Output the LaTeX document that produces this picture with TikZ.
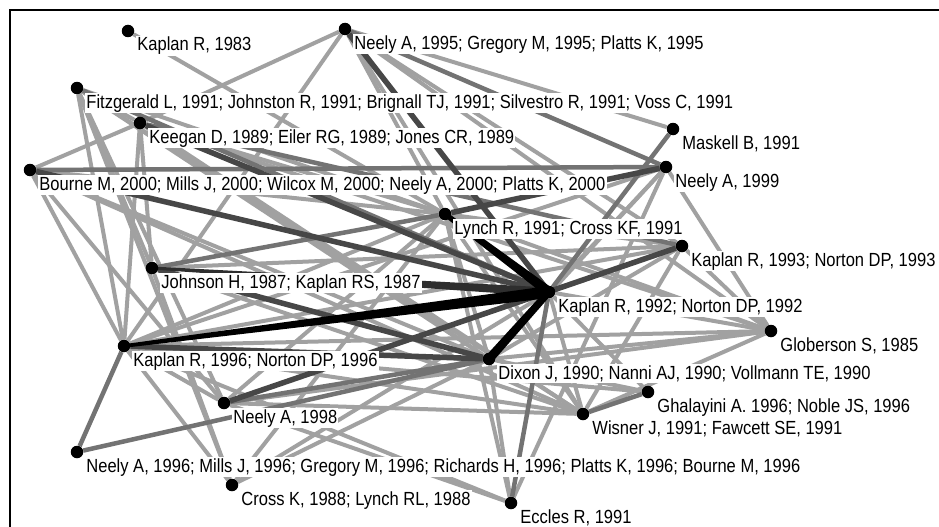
\documentclass[tikz,border=0pt]{standalone}
\usepackage{fontspec}
\setmainfont[FakeStretch=0.87]{Liberation Sans}
\usetikzlibrary{calc}
\pgfdeclarelayer{bg}
\pgfdeclarelayer{edges}
\pgfsetlayers{bg,edges,main}
\tikzset{
  dot/.style={circle, fill=black, inner sep=0pt, minimum size=12.5pt},
  lab/.style={anchor=base west, fill=white, inner sep=1.2pt, font=\fontsize{19}{21}\selectfont},
  lt/.style={line width=4pt, draw=black!37},
  md/.style={line width=4.5pt, draw=black!55},
  dk/.style={line width=5.5pt, draw=black!72},
}
% tapered connector: #1 from node, #2 to node, #3 half width at #1, #4 half width at #2, #5 colour
\newcommand{\wedgeedge}[5]{%
  \fill[#5] ($(#1)!#3!90:(#2)$) -- ($(#2)!#4!-90:(#1)$) -- ($(#2)!#4!90:(#1)$) -- ($(#1)!#3!-90:(#2)$) -- cycle;}
\begin{document}
\begin{tikzpicture}[x=1pt,y=-1pt]
\useasboundingbox (0,0) rectangle (939,527);
\begin{pgfonlayer}{bg}
\fill[white] (0,0) rectangle (939,527);
\end{pgfonlayer}
\draw[line width=2pt] (9.5,527) -- (9.5,10) -- (939,10);

% dots
\node[dot] (A) at (128,31) {};
\node[dot] (B) at (345,29) {};
\node[dot] (C) at (77,88) {};
\node[dot] (D) at (140,123) {};
\node[dot] (E) at (673,129) {};
\node[dot] (F) at (666,167) {};
\node[dot] (G) at (30,170) {};
\node[dot] (H) at (445,214) {};
\node[dot] (I) at (682,246) {};
\node[dot] (J) at (152,268) {};
\node[dot] (K) at (549,292) {};
\node[dot] (L) at (771,331) {};
\node[dot] (M) at (124,346) {};
\node[dot] (N) at (489,359) {};
\node[dot] (O) at (648,392) {};
\node[dot] (P) at (224,403) {};
\node[dot] (Q) at (583,414) {};
\node[dot] (R) at (77,452) {};
\node[dot] (S) at (232,485) {};
\node[dot] (T) at (511,503) {};

% edges
\begin{pgfonlayer}{edges}
\foreach \a/\b in {A/H, B/D, B/M, B/E, B/H, B/Q, B/L, B/I,
  C/D, C/J, C/M, C/H, C/N, C/Q, C/P, C/S,
  D/G, D/J, D/M, D/H, D/N, D/Q, D/L,
  F/K, F/N, F/L, F/T, F/M,
  G/M, G/P, G/N, G/Q, G/H,
  H/I, H/L, H/Q, H/T, H/N, H/M, H/P, H/S,
  I/J, I/M, I/N, I/Q, I/L,
  J/Q, J/S,
  K/I, K/L, K/Q, K/P, K/S, K/O,
  L/M, L/N, L/Q, L/P,
  M/O, M/Q, M/P, M/S, M/T,
  N/O, N/T,
  P/Q, P/T, S/N}
  \draw[lt] (\a) -- (\b);
\foreach \a/\b in {G/F, B/F, E/K, R/M, R/N, P/N, C/K, H/J, T/K, D/I, O/Q}
  \draw[md] (\a) -- (\b);
\foreach \a/\b in {D/K, G/K, M/N, B/K, J/N, H/F, P/I}
  \draw[dk] (\a) -- (\b);
\wedgeedge{J}{K}{1.5pt}{4.5pt}{black!82}
\wedgeedge{M}{K}{1.8pt}{6pt}{black}
\wedgeedge{H}{K}{2.5pt}{5pt}{black}
\wedgeedge{N}{K}{4.5pt}{3.5pt}{black}
\end{pgfonlayer}

% labels
\node[lab] (lA) at (136,51) {Kaplan R, 1983};
\node[lab] (lB) at (353,49) {Neely A, 1995; Gregory M, 1995; Platts K, 1995};
\node[lab] (lC) at (85,108) {Fitzgerald L, 1991; Johnston R, 1991; Brignall TJ, 1991; Silvestro R, 1991; Voss C, 1991};
\node[lab] (lD) at (148,143) {Keegan D, 1989; Eiler RG, 1989; Jones CR, 1989};
\node[lab] (lE) at (681,149) {Maskell B, 1991};
\node[lab] (lF) at (674,187) {Neely A, 1999};
\node[lab] (lG) at (38,190) {Bourne M, 2000; Mills J, 2000; Wilcox M, 2000; Neely A, 2000; Platts K, 2000};
\node[lab] (lH) at (453,234) {Lynch R, 1991; Cross KF, 1991};
\node[lab] (lI) at (690,266) {Kaplan R, 1993; Norton DP, 1993};
\node[lab] (lJ) at (160,288) {Johnson H, 1987; Kaplan RS, 1987};
\node[lab] (lK) at (557,312) {Kaplan R, 1992; Norton DP, 1992};
\node[lab] (lL) at (779,351) {Globerson S, 1985};
\node[lab] (lM) at (132,366) {Kaplan R, 1996; Norton DP, 1996};
\node[lab] (lN) at (497,379) {Dixon J, 1990; Nanni AJ, 1990; Vollmann TE, 1990};
\node[lab] (lO) at (656,412) {Ghalayini A. 1996; Noble JS, 1996};
\node[lab] (lP) at (232,423) {Neely A, 1998};
\node[lab] (lQ) at (591,434) {Wisner J, 1991; Fawcett SE, 1991};
\node[lab] (lR) at (85,472) {Neely A, 1996; Mills J, 1996; Gregory M, 1996; Richards H, 1996; Platts K, 1996; Bourne M, 1996};
\node[lab] (lS) at (240,505) {Cross K, 1988; Lynch RL, 1988};
\node[lab] (lT) at (519,523) {Eccles R, 1991};
\end{tikzpicture}
\end{document}
